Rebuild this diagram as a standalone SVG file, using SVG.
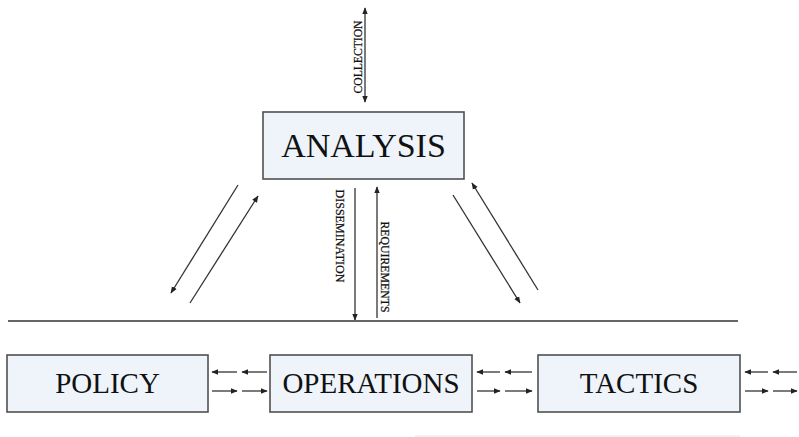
<svg xmlns="http://www.w3.org/2000/svg" width="799" height="437" viewBox="0 0 799 437">
<style>
.box{fill:#eef4fa;stroke:#505050;stroke-width:1.6}
.big{font-family:"Liberation Serif","Times New Roman",serif;fill:#111;text-anchor:middle}
.small{font-family:"Liberation Serif","Times New Roman",serif;font-size:12.5px;fill:#111;text-anchor:middle;stroke:#111;stroke-width:0.25}
.ln{stroke:#333;stroke-width:1.3;fill:none}
.arr{stroke:#333;stroke-width:1.3;fill:none;marker-end:url(#ah)}
.arr2{stroke:#333;stroke-width:1.3;fill:none;marker-end:url(#ah);marker-start:url(#ahs)}
</style>
<defs>
<marker id="ah" viewBox="0 0 10 10" refX="9" refY="5" markerWidth="7" markerHeight="7" markerUnits="userSpaceOnUse" orient="auto"><path d="M0,1 L10,5 L0,9 z" fill="#222"/></marker>
<marker id="ahs" viewBox="0 0 10 10" refX="1" refY="5" markerWidth="7" markerHeight="7" markerUnits="userSpaceOnUse" orient="auto"><path d="M10,1 L0,5 L10,9 z" fill="#222"/></marker>
</defs>
<g id="connectors">
<line class="arr2" x1="365" y1="8" x2="365" y2="102"/>
<text class="small" transform="rotate(-90 362 57)" x="362" y="57" textLength="73" lengthAdjust="spacingAndGlyphs">COLLECTION</text>
<line class="arr" x1="355" y1="188" x2="355" y2="320"/>
<text class="small" transform="rotate(90 336 236)" x="336" y="236" textLength="93" lengthAdjust="spacingAndGlyphs">DISSEMINATION</text>
<line class="arr" x1="377" y1="318" x2="377" y2="187"/>
<text class="small" transform="rotate(90 381 267)" x="381" y="267" textLength="91" lengthAdjust="spacingAndGlyphs">REQUIREMENTS</text>
<line class="arr" x1="238" y1="185" x2="171" y2="293"/>
<line class="arr" x1="190" y1="303" x2="258" y2="196"/>
<line class="arr" x1="453" y1="195" x2="520" y2="303"/>
<line class="arr" x1="538" y1="290" x2="472" y2="183"/>
<line class="ln" x1="8" y1="321" x2="738" y2="321"/>
<line x1="415" y1="436" x2="740" y2="436" stroke="#e4e4e4" stroke-width="1"/>
<line class="arr" x1="237" y1="372" x2="212" y2="372"/>
<line class="arr" x1="267" y1="372" x2="242" y2="372"/>
<line class="arr" x1="212" y1="391" x2="237" y2="391"/>
<line class="arr" x1="242" y1="391" x2="267" y2="391"/>
<line class="arr" x1="500" y1="372" x2="477" y2="372"/>
<line class="arr" x1="532" y1="372" x2="505" y2="372"/>
<line class="arr" x1="477" y1="391" x2="500" y2="391"/>
<line class="arr" x1="505" y1="391" x2="532" y2="391"/>
<line class="arr" x1="768" y1="372" x2="745" y2="372"/>
<line class="arr" x1="797" y1="372" x2="773" y2="372"/>
<line class="arr" x1="745" y1="391" x2="768" y2="391"/>
<line class="arr" x1="773" y1="391" x2="797" y2="391"/>
</g>
<g id="analysis">
<rect class="box" x="263" y="112" width="201" height="67"/>
<text class="big" x="363.5" y="157" font-size="34">ANALYSIS</text>
</g>
<g id="policy">
<rect class="box" x="7" y="355" width="201" height="57"/>
<text class="big" x="107.5" y="393" font-size="29">POLICY</text>
</g>
<g id="operations">
<rect class="box" x="270" y="355" width="202" height="57"/>
<text class="big" x="371" y="393" font-size="29">OPERATIONS</text>
</g>
<g id="tactics">
<rect class="box" x="538" y="355" width="202" height="57"/>
<text class="big" x="639" y="393" font-size="29">TACTICS</text>
</g>
</svg>
